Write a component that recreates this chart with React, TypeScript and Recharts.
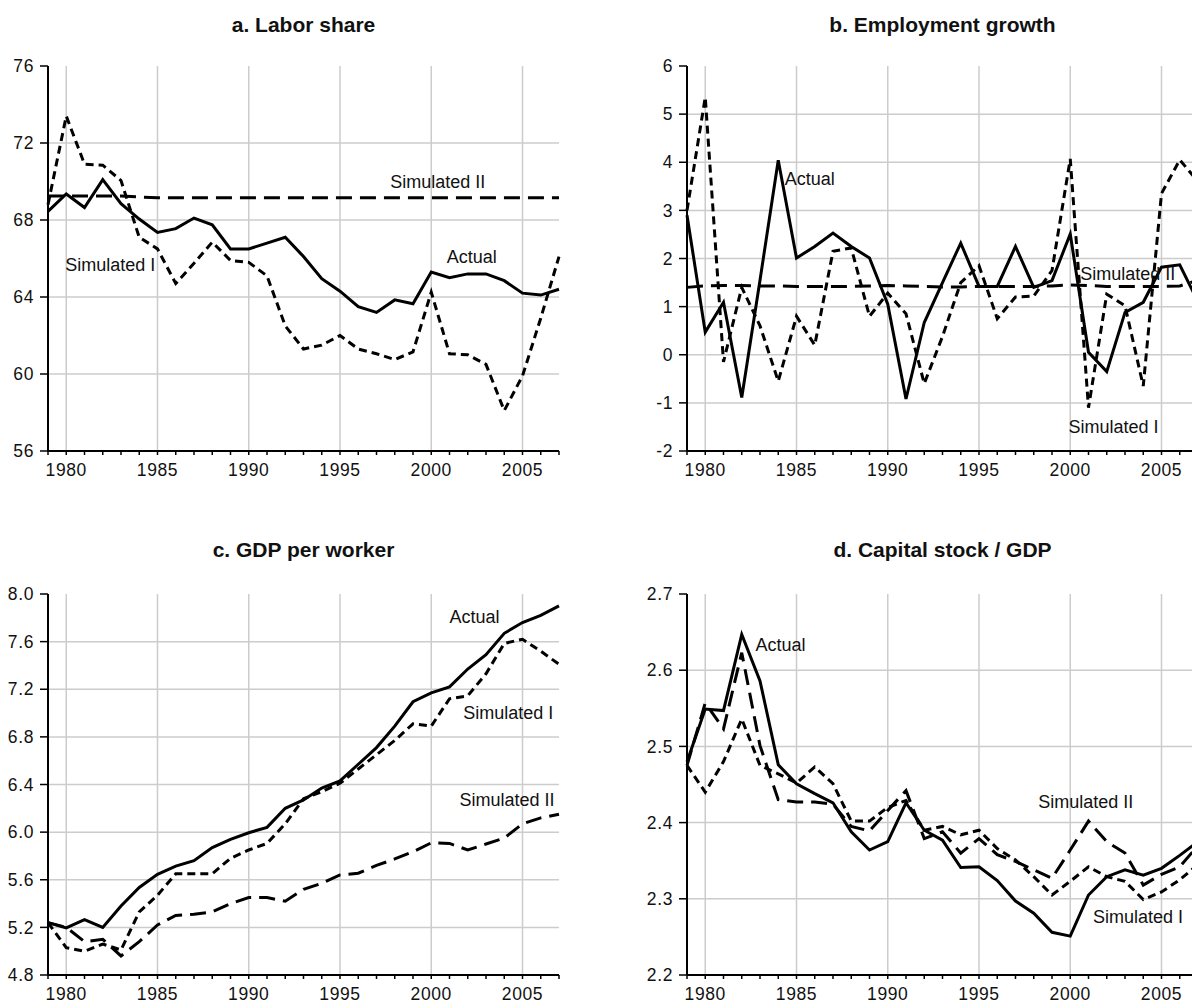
import React from 'react';
import { LineChart, Line, XAxis, YAxis, ReferenceLine, ReferenceDot } from 'recharts';

const FONT = '"Liberation Sans", Arial, Helvetica, sans-serif';

const years = [1979, 1980, 1981, 1982, 1983, 1984, 1985, 1986, 1987, 1988, 1989, 1990, 1991, 1992, 1993,
    1994, 1995, 1996, 1997, 1998, 1999, 2000, 2001, 2002, 2003, 2004, 2005, 2006, 2007];
const yearLabels = [1980, 1985, 1990, 1995, 2000, 2005];

// a. Labor share
const laborActual = [68.45, 69.35, 68.65, 70.1, 68.85, 68.05, 67.35, 67.55, 68.1, 67.75, 66.5, 66.5, 66.8, 67.1, 66.1,
    64.95, 64.3, 63.5, 63.2, 63.85, 63.65, 65.3, 65.0, 65.2, 65.2, 64.85, 64.2, 64.1, 64.4];
const laborSimI = [68.8, 73.4, 70.9, 70.85, 70.05, 67.1, 66.5, 64.7, 65.75, 66.85, 65.9, 65.8, 65.1, 62.5, 61.3,
    61.5, 62.0, 61.3, 61.05, 60.75, 61.15, 64.25, 61.05, 61.0, 60.5, 58.1, 59.9, 62.9, 66.1];
const laborSimII = [69.25, 69.25, 69.25, 69.25, 69.25, 69.2, 69.15, 69.15, 69.15, 69.15, 69.15, 69.15, 69.15, 69.15, 69.15,
    69.15, 69.15, 69.15, 69.15, 69.15, 69.15, 69.15, 69.15, 69.15, 69.15, 69.15, 69.15, 69.15, 69.15];

// b. Employment growth
const empActual = [2.9, 0.47, 1.09, -0.89, 1.55, 4.04, 2.01, 2.25, 2.53, 2.25, 2.01, 1.05, -0.92, 0.67, 1.5,
    2.32, 1.42, 1.42, 2.25, 1.4, 1.54, 2.51, 0.05, -0.35, 0.88, 1.09, 1.82, 1.87, 1.1];
const empSimI = [3.0, 5.35, -0.15, 1.4, 0.6, -0.55, 0.8, 0.2, 2.15, 2.22, 0.8, 1.28, 0.85, -0.6, 0.38,
    1.5, 1.85, 0.75, 1.2, 1.22, 1.75, 4.07, -1.1, 1.26, 1.02, -0.65, 3.35, 4.05, 3.6];
const empSimII = [1.4, 1.43, 1.44, 1.44, 1.43, 1.43, 1.42, 1.42, 1.42, 1.42, 1.43, 1.44, 1.43, 1.42, 1.41,
    1.41, 1.42, 1.42, 1.42, 1.42, 1.43, 1.45, 1.44, 1.42, 1.42, 1.42, 1.42, 1.43, 1.55];

// c. GDP per worker
const gdpActual = [5.24, 5.195, 5.265, 5.2, 5.38, 5.535, 5.645, 5.715, 5.76, 5.87, 5.94, 5.995, 6.04, 6.2, 6.27,
    6.37, 6.43, 6.57, 6.71, 6.89, 7.095, 7.17, 7.22, 7.37, 7.49, 7.67, 7.76, 7.82, 7.9];
const gdpSimI = [5.24, 5.03, 5.0, 5.06, 5.01, 5.33, 5.47, 5.65, 5.65, 5.65, 5.78, 5.85, 5.905, 6.07, 6.28,
    6.34, 6.41, 6.53, 6.65, 6.77, 6.91, 6.89, 7.12, 7.145, 7.33, 7.585, 7.62, 7.52, 7.41];
const gdpSimII = [5.24, 5.2, 5.08, 5.1, 4.96, 5.08, 5.22, 5.3, 5.31, 5.33, 5.4, 5.45, 5.45, 5.42, 5.52,
    5.57, 5.64, 5.655, 5.72, 5.775, 5.835, 5.91, 5.905, 5.85, 5.9, 5.95, 6.07, 6.12, 6.15];

// d. Capital stock / GDP
const capActual = [2.48, 2.549, 2.547, 2.647, 2.586, 2.476, 2.451, 2.438, 2.426, 2.388, 2.364, 2.375, 2.426, 2.39, 2.377,
    2.341, 2.342, 2.324, 2.297, 2.281, 2.256, 2.251, 2.305, 2.329, 2.338, 2.331, 2.34, 2.357, 2.375];
const capSimI = [2.475, 2.44, 2.48, 2.536, 2.475, 2.464, 2.452, 2.473, 2.451, 2.402, 2.402, 2.42, 2.429, 2.39, 2.395,
    2.384, 2.39, 2.366, 2.351, 2.329, 2.305, 2.323, 2.342, 2.329, 2.323, 2.299, 2.309, 2.325, 2.345];
const capSimII = [2.475, 2.557, 2.523, 2.623, 2.501, 2.43, 2.427, 2.427, 2.424, 2.395, 2.389, 2.416, 2.442, 2.379, 2.388,
    2.36, 2.379, 2.358, 2.349, 2.338, 2.327, 2.364, 2.402, 2.375, 2.36, 2.318, 2.332, 2.342, 2.37];

const laborTicks = [56, 60, 64, 68, 72, 76];
const empTicks = [-2, -1, 0, 1, 2, 3, 4, 5, 6];
const gdpTicks = [4.8, 5.2, 5.6, 6.0, 6.4, 6.8, 7.2, 7.6, 8.0];
const capTicks = [2.2, 2.3, 2.4, 2.5, 2.6, 2.7];

interface Row {
    year: number;
    actual: number;
    simI: number;
    simII: number;
}

interface Annotation {
    text: string;
    year: number;
    value: number;
}

const buildRows = (actual: number[], simI: number[], simII: number[]): Row[] =>
    years.map((year, i) => ({ year, actual: actual[i], simI: simI[i], simII: simII[i] }));

interface PanelProps {
    title: string;
    data: Row[];
    left: number;
    top: number;
    height: number;
    plotTop: number;
    xAxisHeight: number;
    titleTop: number;
    yTicks: number[];
    decimals: number;
    labels: Annotation[];
}

const tickStyle = { fontSize: 17.5, fontFamily: FONT, fill: '#111', letterSpacing: 0.6 };

const Panel: React.FC<PanelProps> = ({
    title, data, left, top, height, plotTop, xAxisHeight, titleTop, yTicks, decimals, labels
}) => {
    const yMin = yTicks[0];
    const yMax = yTicks[yTicks.length - 1];
    const yGrid = yTicks.slice(1, -1);
    return (
        <div style={{ position: 'absolute', left, top, width: 600, height }}>
            <div
                style={{
                    position: 'absolute',
                    left: 48,
                    width: 511,
                    top: titleTop,
                    textAlign: 'center',
                    fontFamily: FONT,
                    fontWeight: 'bold',
                    fontSize: 21,
                    lineHeight: '24px',
                    color: '#111'
                }}
            >
                {title}
            </div>
            <LineChart
                width={600}
                height={height}
                data={data}
                margin={{ top: plotTop, right: 41, bottom: 0, left: 0 }}
            >
                {yearLabels.map((yr) => (
                    <ReferenceLine key={`vx${yr}`} x={yr} stroke="#cccccc" strokeWidth={1.5} />
                ))}
                {yGrid.map((v) => (
                    <ReferenceLine key={`hy${v}`} y={v} stroke="#cccccc" strokeWidth={1.5} />
                ))}
                <XAxis
                    dataKey="year"
                    type="number"
                    domain={[1979, 2007]}
                    ticks={years}
                    interval={0}
                    height={xAxisHeight}
                    tickSize={4}
                    tickMargin={9}
                    tickFormatter={(v: number) => (v % 5 === 0 ? String(v) : '')}
                    axisLine={{ stroke: '#000', strokeWidth: 2 }}
                    tickLine={{ stroke: '#000', strokeWidth: 1.5 }}
                    tick={tickStyle}
                />
                <YAxis
                    type="number"
                    domain={[yMin, yMax]}
                    ticks={yTicks}
                    interval={0}
                    width={48}
                    tickSize={8}
                    tickMargin={6}
                    tickFormatter={(v: number) => v.toFixed(decimals)}
                    axisLine={{ stroke: '#000', strokeWidth: 2 }}
                    tickLine={{ stroke: '#000', strokeWidth: 1.5 }}
                    tick={tickStyle}
                />
                <Line
                    type="linear"
                    dataKey="simII"
                    stroke="#000"
                    strokeWidth={3}
                    strokeDasharray="16 8"
                    dot={false}
                    isAnimationActive={false}
                />
                <Line
                    type="linear"
                    dataKey="simI"
                    stroke="#000"
                    strokeWidth={3}
                    strokeDasharray="8 5"
                    dot={false}
                    isAnimationActive={false}
                />
                <Line
                    type="linear"
                    dataKey="actual"
                    stroke="#000"
                    strokeWidth={3}
                    dot={false}
                    isAnimationActive={false}
                />
                {labels.map((l) => (
                    <ReferenceDot
                        key={l.text}
                        x={l.year}
                        y={l.value}
                        r={0}
                        fill="none"
                        stroke="none"
                        label={{
                            value: l.text,
                            position: 'right',
                            offset: 0,
                            fontSize: 18,
                            fontFamily: FONT,
                            fill: '#111'
                        }}
                    />
                ))}
            </LineChart>
        </div>
    );
};

const App: React.FC = () => {
    return (
        <div
            style={{
                position: 'absolute',
                left: 0,
                top: 0,
                width: 1192,
                height: 1005,
                overflow: 'hidden',
                background: '#fff'
            }}
        >
            <Panel
                title="a. Labor share"
                data={buildRows(laborActual, laborSimI, laborSimII)}
                left={0}
                top={0}
                height={500}
                plotTop={66}
                xAxisHeight={49}
                titleTop={13}
                yTicks={laborTicks}
                decimals={0}
                labels={[
                    { text: 'Simulated II', year: 1997.75, value: 70.0 },
                    { text: 'Actual', year: 2000.85, value: 66.1 },
                    { text: 'Simulated I', year: 1979.95, value: 65.7 }
                ]}
            />
            <Panel
                title="b. Employment growth"
                data={buildRows(empActual, empSimI, empSimII)}
                left={639}
                top={0}
                height={500}
                plotTop={66}
                xAxisHeight={49}
                titleTop={13}
                yTicks={empTicks}
                decimals={0}
                labels={[
                    { text: 'Actual', year: 1984.35, value: 3.66 },
                    { text: 'Simulated II', year: 2000.55, value: 1.68 },
                    { text: 'Simulated I', year: 1999.9, value: -1.5 }
                ]}
            />
            <Panel
                title="c. GDP per worker"
                data={buildRows(gdpActual, gdpSimI, gdpSimII)}
                left={0}
                top={500}
                height={505}
                plotTop={94}
                xAxisHeight={30}
                titleTop={38}
                yTicks={gdpTicks}
                decimals={1}
                labels={[
                    { text: 'Actual', year: 2001.0, value: 7.81 },
                    { text: 'Simulated I', year: 2001.75, value: 7.0 },
                    { text: 'Simulated II', year: 2001.55, value: 6.27 }
                ]}
            />
            <Panel
                title="d. Capital stock / GDP"
                data={buildRows(capActual, capSimI, capSimII)}
                left={639}
                top={500}
                height={505}
                plotTop={94}
                xAxisHeight={30}
                titleTop={38}
                yTicks={capTicks}
                decimals={1}
                labels={[
                    { text: 'Actual', year: 1982.75, value: 2.633 },
                    { text: 'Simulated II', year: 1998.25, value: 2.427 },
                    { text: 'Simulated I', year: 2001.25, value: 2.277 }
                ]}
            />
        </div>
    );
};

export default App;
